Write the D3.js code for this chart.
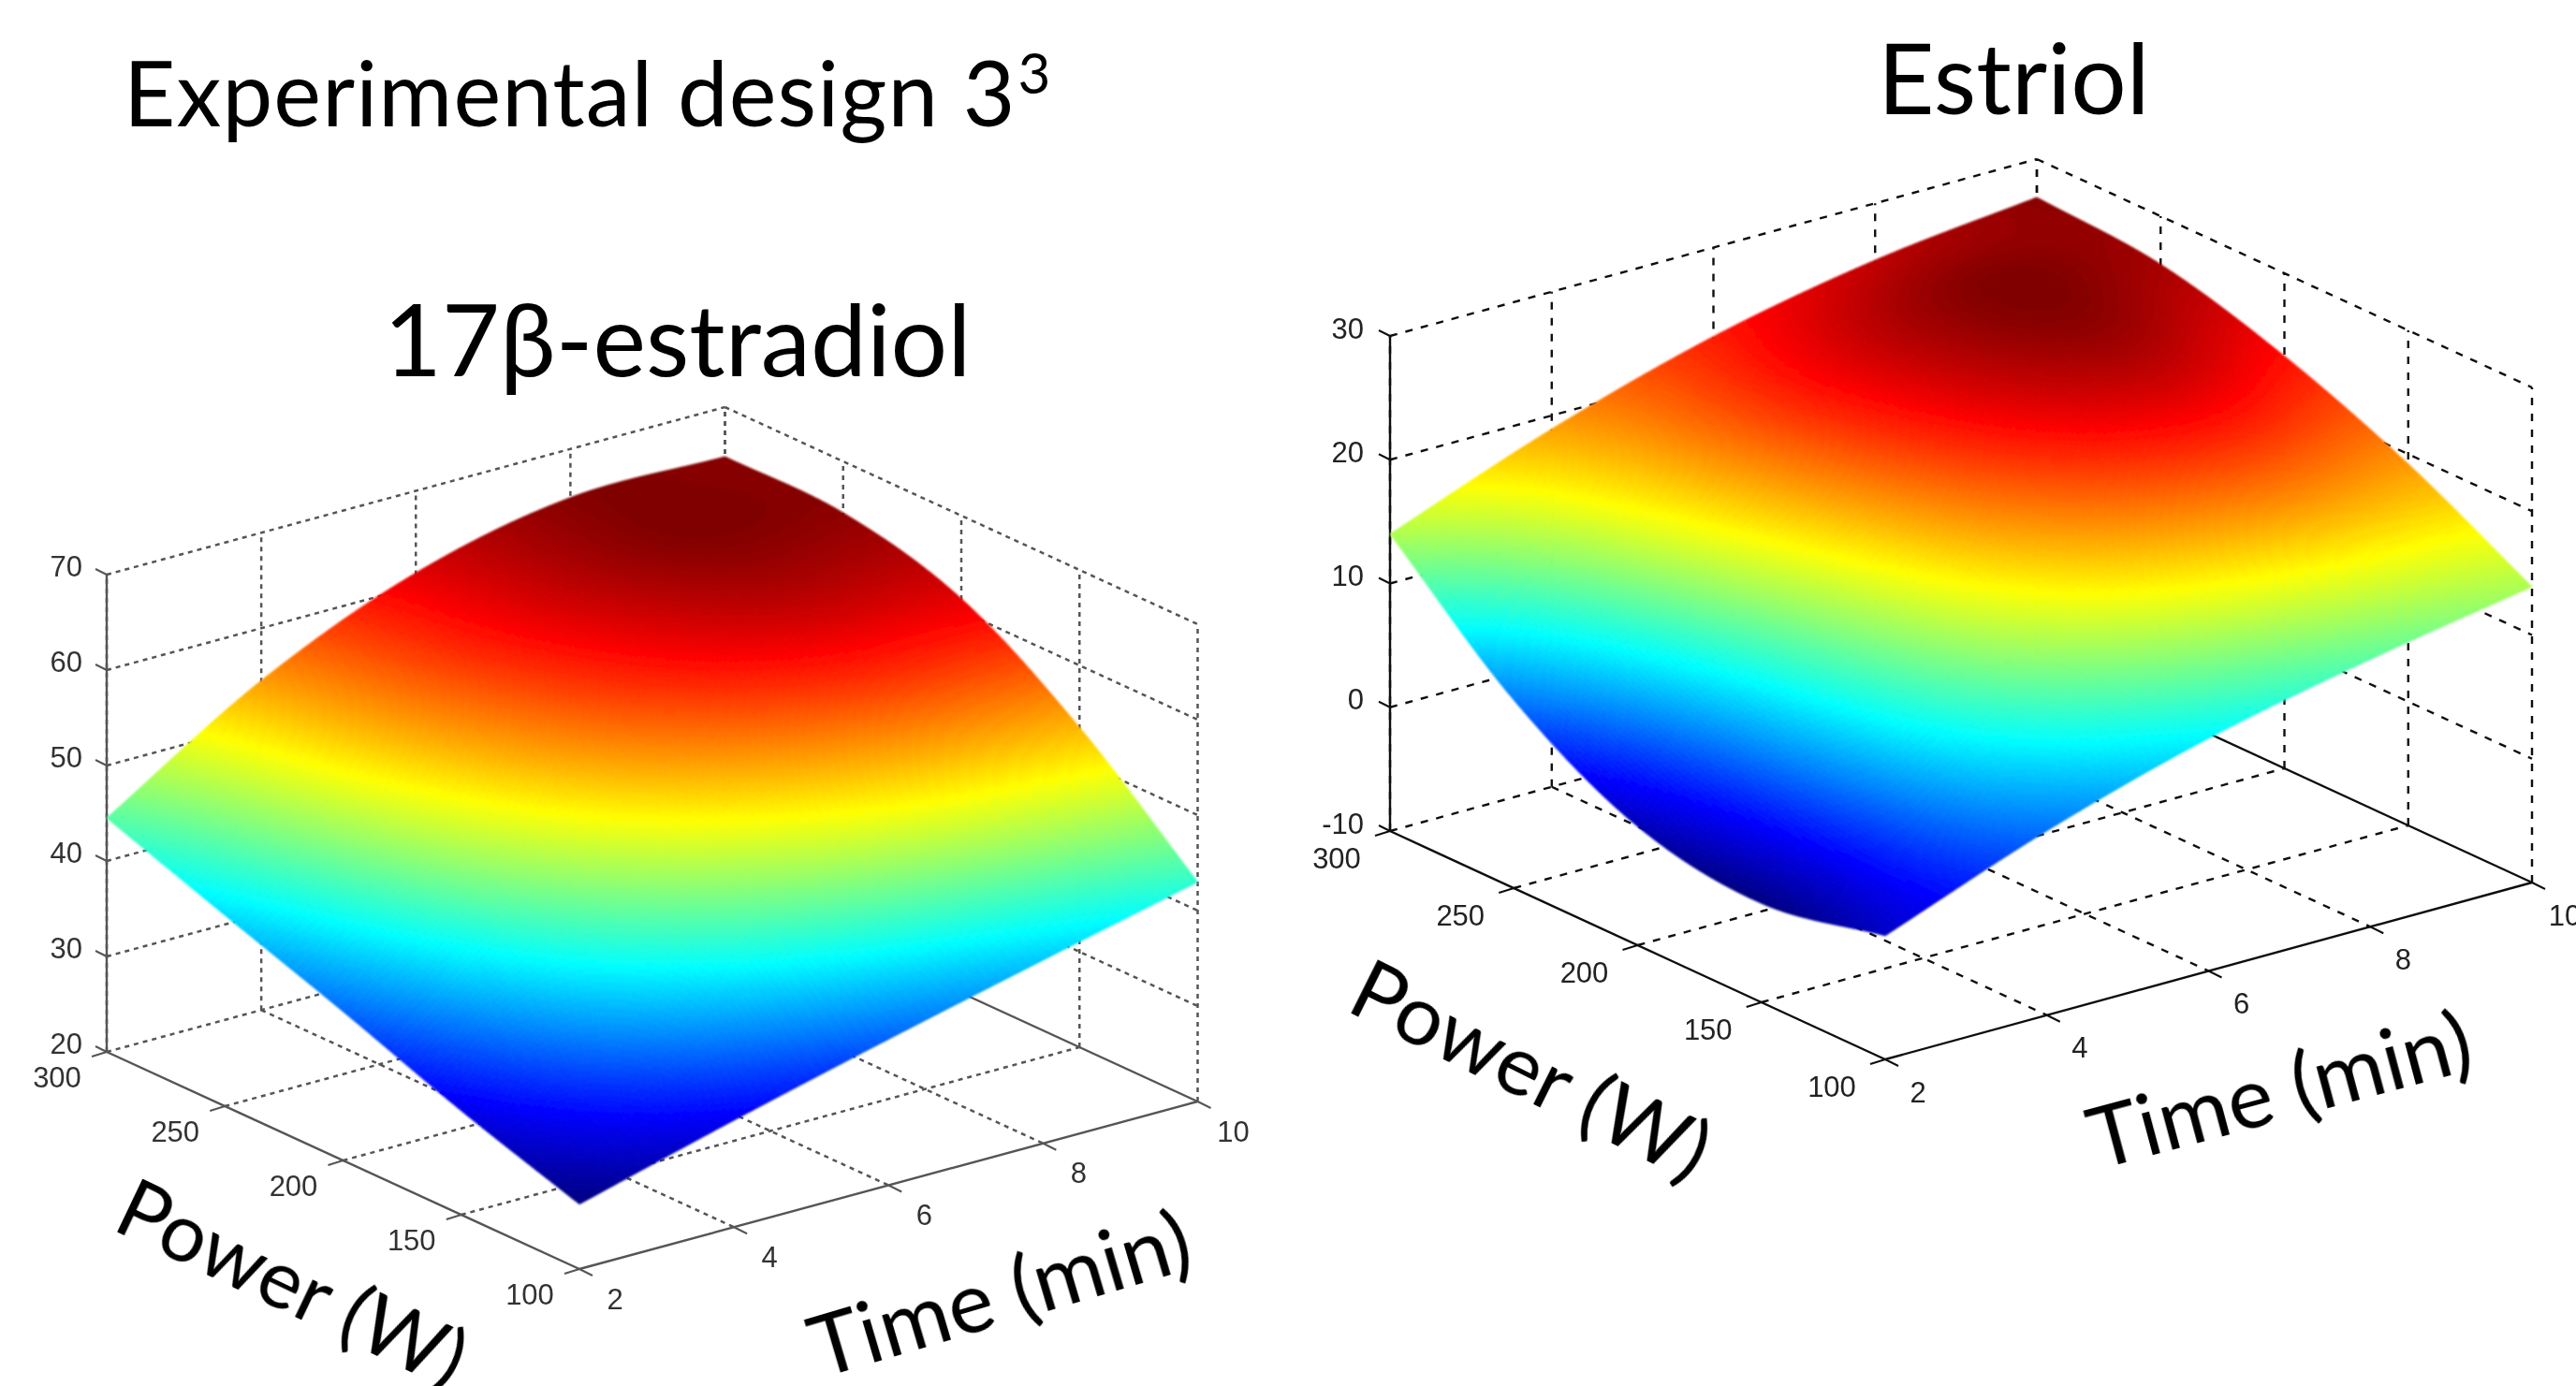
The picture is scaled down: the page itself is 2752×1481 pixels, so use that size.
<!DOCTYPE html>
<html>
<head>
    <meta charset="utf-8">
    <title>Experimental design 3^3</title>
    <script src="https://cdnjs.cloudflare.com/ajax/libs/d3/7.8.5/d3.min.js"></script>
    <style>
        html, body { margin: 0; padding: 0; background: #fff; overflow: hidden; }
        svg { display: block; }
        .title { font-family: Lato, "Open Sans", sans-serif; fill: #000; }
        .tick { font-family: "Liberation Sans", Arial, sans-serif; font-size: 31px; }
    </style>
</head>
<body>
<svg id="chart" width="2752" height="1481"></svg>
<script>
    var timeTicks = [2, 4, 6, 8, 10];
    var powerTicks = [300, 250, 200, 150, 100];
    var estradiolTicks = [20, 30, 40, 50, 60, 70];
    var estriolTicks = [-10, 0, 10, 20, 30];

    // response values, one row per power, one column per time
    var estradiolRow300 = [44.5, 54.5, 61.4, 64.9, 64.8];
    var estradiolRow250 = [40.0, 52.2, 60.2, 64.6, 64.6];
    var estradiolRow200 = [35.6, 47.7, 56.2, 60.8, 61.3];
    var estradiolRow150 = [30.9, 40.5, 47.6, 52.0, 53.5];
    var estradiolRow100 = [26.8, 31.2, 35.3, 39.2, 43.0];

    var estriolRow300 = [14.0, 18.9, 22.8, 25.4, 26.9];
    var estriolRow250 = [5.2, 16.3, 23.6, 27.2, 26.1];
    var estriolRow200 = [-0.4, 12.8, 21.5, 25.5, 23.3];
    var estriolRow150 = [-2.0, 9.6, 16.8, 20.0, 19.2];
    var estriolRow100 = [0.0, 4.9, 8.8, 11.6, 13.9];

    var svg = d3.select("#chart");

    var defs = svg.append("defs");
    defs.append("filter").attr("id", "soft")
        .append("feGaussianBlur").attr("stdDeviation", 0.6);
    defs.append("filter").attr("id", "softer")
        .append("feGaussianBlur").attr("stdDeviation", 1.3);

    // matlab jet, finer steps than its 64 since the picture is blurred
    var jetRamp = d3.scaleLinear()
        .domain([0, 0.125, 0.375, 0.625, 0.875, 1])
        .range(["#000084", "#0000ff", "#00ffff", "#ffff00", "#ff0000", "#800000"]);
    var jetLevels = d3.range(160).map(function(i) { return jetRamp(i / 159); });

    // catmull-rom through one row of grid values, only used for shading the mesh
    function spline(v, s) {
        var i = Math.min(Math.floor(s), v.length - 2), f = s - i;
        var p0 = i > 0 ? v[i - 1] : 2 * v[0] - v[1];
        var p1 = v[i], p2 = v[i + 1];
        var p3 = i + 2 < v.length ? v[i + 2] : 2 * v[i + 1] - v[i];
        return 0.5 * (2 * p1 + (p2 - p0) * f + (2 * p0 - 5 * p1 + 4 * p2 - p3) * f * f + (3 * p1 - p0 - 3 * p2 + p3) * f * f * f);
    }

    function drawPanel(o) {
        var g = svg.append("g");

        var tx = d3.scaleLinear().domain([2, 10]).range([o.B[0], o.C[0]]);
        var ty = d3.scaleLinear().domain([2, 10]).range([0, o.C[1] - o.B[1]]);
        var px = d3.scaleLinear().domain([300, 100]).range([0, o.B[0] - o.A[0]]);
        var py = d3.scaleLinear().domain([300, 100]).range([o.A[1], o.B[1]]);
        var zy = d3.scaleLinear().domain(d3.extent(o.zTicks)).range([0, -o.height]);
        var zmin = zy.domain()[0], zTop = zy.domain()[1];

        // x offset of tx is measured at power 100, so pull back along the power axis
        function project(t, p, z) {
            return [
                tx(t) - px(100) + px(p),
                py(p) + ty(t) + zy(z)
            ];
        }

        var gridG = g.append("g").attr("filter", "url(#soft)");

        function line3(a, b, solid) {
            var p = project(a[0], a[1], a[2]), q = project(b[0], b[1], b[2]);
            var l = gridG.append("line")
                .attr("x1", p[0]).attr("y1", p[1]).attr("x2", q[0]).attr("y2", q[1])
                .attr("stroke", o.stroke)
                .attr("stroke-width", solid ? 2.4 : o.gridWidth);
            if (!solid) l.attr("stroke-dasharray", o.dash);
        }

        // back walls and floor grid
        o.zTicks.forEach(function(z) {
            line3([2, 300, z], [10, 300, z]);
            if (z > zmin) line3([10, 300, z], [10, 100, z]);
        });
        timeTicks.forEach(function(t) {
            line3([t, 300, zmin], [t, 300, zTop]);
            if (t > 2 && t < 10) line3([t, 300, zmin], [t, 100, zmin]);
        });
        powerTicks.forEach(function(p) {
            line3([10, p, zmin], [10, p, zTop]);
            if (p < 300 && p > 100) line3([2, p, zmin], [10, p, zmin]);
        });

        // axes
        line3([2, 300, zmin], [2, 300, zTop], true);
        line3([2, 300, zmin], [2, 100, zmin], true);
        line3([2, 100, zmin], [10, 100, zmin], true);
        line3([10, 300, zmin], [10, 100, zmin], true);

        // tick stubs
        o.zTicks.forEach(function(z) {
            var p = project(2, 300, z);
            gridG.append("line").attr("x1", p[0]).attr("y1", p[1]).attr("x2", p[0] - 12).attr("y2", p[1] - 6)
                .attr("stroke", o.stroke).attr("stroke-width", 2);
        });
        powerTicks.forEach(function(v) {
            var p = project(2, v, zmin);
            gridG.append("line").attr("x1", p[0]).attr("y1", p[1]).attr("x2", p[0] - 16).attr("y2", p[1] + 5)
                .attr("stroke", o.stroke).attr("stroke-width", 2);
        });
        timeTicks.forEach(function(v) {
            var p = project(v, 100, zmin);
            gridG.append("line").attr("x1", p[0]).attr("y1", p[1]).attr("x2", p[0] + 14).attr("y2", p[1] + 7)
                .attr("stroke", o.stroke).attr("stroke-width", 2);
        });

        // surface mesh, grouped by colour level so the svg stays small
        var n = 200;
        var colour = d3.scaleQuantize().range(jetLevels);
        function valueAt(a, b) {
            var col = o.rows.map(function(r) { return spline(r, b * 4); });
            return spline(col, a * 4);
        }
        var uScale = d3.scaleLinear().domain([0, 1]).range([300, 100]);
        var vScale = d3.scaleLinear().domain([0, 1]).range([2, 10]);
        var cells = [], lo = Infinity, hi = -Infinity;
        d3.range(n + 1).forEach(function(i) {
            d3.range(n + 1).forEach(function(j) {
                var z = valueAt(i / n, j / n);
                lo = Math.min(lo, z); hi = Math.max(hi, z);
                cells.push(z);
            });
        });
        colour.domain([lo, hi]);

        function corner(i, j) {
            var q = project(vScale(j / n), uScale(i / n), cells[i * (n + 1) + j]);
            return q[0].toFixed(1) + "," + q[1].toFixed(1);
        }
        var paths = {};
        d3.range(n).forEach(function(i) {
            d3.range(n).forEach(function(j) {
                var mid = (cells[i * (n + 1) + j] + cells[(i + 1) * (n + 1) + j + 1]) / 2;
                var c = colour(mid);
                paths[c] = (paths[c] || "") + "M" + corner(i, j) + "L" + corner(i + 1, j) + "L" + corner(i + 1, j + 1) + "L" + corner(i, j + 1) + "Z";
            });
        });
        g.append("g").attr("filter", "url(#softer)")
            .selectAll("path").data(jetLevels.filter(function(c) { return paths[c]; }))
            .enter().append("path")
            .attr("d", function(c) { return paths[c]; })
            .attr("fill", function(c) { return c; })
            .attr("stroke", function(c) { return c; })
            .attr("stroke-width", 1);

        // tick labels
        var labels = g.append("g").attr("class", "tick").attr("fill", o.text).attr("filter", "url(#soft)");
        o.zTicks.forEach(function(z) {
            var p = project(2, 300, z);
            labels.append("text").attr("x", p[0] + o.zOff[0]).attr("y", p[1] + o.zOff[1])
                .attr("text-anchor", "end").attr("dominant-baseline", "central").text(z);
        });
        powerTicks.forEach(function(v) {
            var p = project(2, v, zmin);
            labels.append("text").attr("x", p[0] + o.pOff[0]).attr("y", p[1] + o.pOff[1])
                .attr("text-anchor", "middle").attr("dominant-baseline", "central").text(v);
        });
        timeTicks.forEach(function(v) {
            var p = project(v, 100, zmin);
            labels.append("text").attr("x", p[0] + o.tOff[0]).attr("y", p[1] + o.tOff[1])
                .attr("text-anchor", "middle").attr("dominant-baseline", "central").text(v);
        });

        // axis names
        g.append("text").attr("class", "title").attr("font-size", o.powerSize).attr("filter", "url(#soft)")
            .attr("transform", "translate(" + o.powerAt + ") rotate(" + o.powerAngle + ")")
            .text("Power (W)");
        g.append("text").attr("class", "title").attr("font-size", o.timeSize).attr("filter", "url(#soft)")
            .attr("transform", "translate(" + o.timeAt + ") rotate(" + o.timeAngle + ")")
            .text("Time (min)");
    }

    drawPanel({
        A: [114, 1124], B: [619, 1356], C: [1279.5, 1177], height: 510,
        zTicks: estradiolTicks,
        rows: [estradiolRow300, estradiolRow250, estradiolRow200, estradiolRow150, estradiolRow100],
        stroke: "#555", text: "#333", dash: "5,5", gridWidth: 2.5,
        zOff: [-26, -9], pOff: [-53, 27], tOff: [38, 32],
        powerSize: 87, timeSize: 92,
        powerAt: [118, 1313], powerAngle: 25.5,
        timeAt: [876, 1473], timeAngle: -16.5
    });

    drawPanel({
        A: [1485, 888], B: [2014, 1132], C: [2705, 943], height: 529,
        zTicks: estriolTicks,
        rows: [estriolRow300, estriolRow250, estriolRow200, estriolRow150, estriolRow100],
        stroke: "#111", text: "#222", dash: "8,9", gridWidth: 2.4,
        zOff: [-28, -8], pOff: [-57, 29], tOff: [35, 35],
        powerSize: 90, timeSize: 92,
        powerAt: [1436, 1079], powerAngle: 26.5,
        timeAt: [2241, 1250], timeAngle: -15
    });

    // slide titles
    var t1 = svg.append("text").attr("class", "title").attr("x", 132).attr("y", 135).attr("font-size", 96)
        .attr("letter-spacing", 1.1).attr("filter", "url(#soft)")
        .text("Experimental design 3");
    t1.append("tspan").attr("font-size", 60).attr("dy", -35).attr("dx", 2).text("3");

    svg.append("text").attr("class", "title").attr("x", 410).attr("y", 402).attr("font-size", 107)
        .attr("filter", "url(#soft)").text("17β-estradiol");
    svg.append("text").attr("class", "title").attr("x", 2006).attr("y", 122).attr("font-size", 105)
        .attr("filter", "url(#soft)").text("Estriol");
</script>
</body>
</html>
